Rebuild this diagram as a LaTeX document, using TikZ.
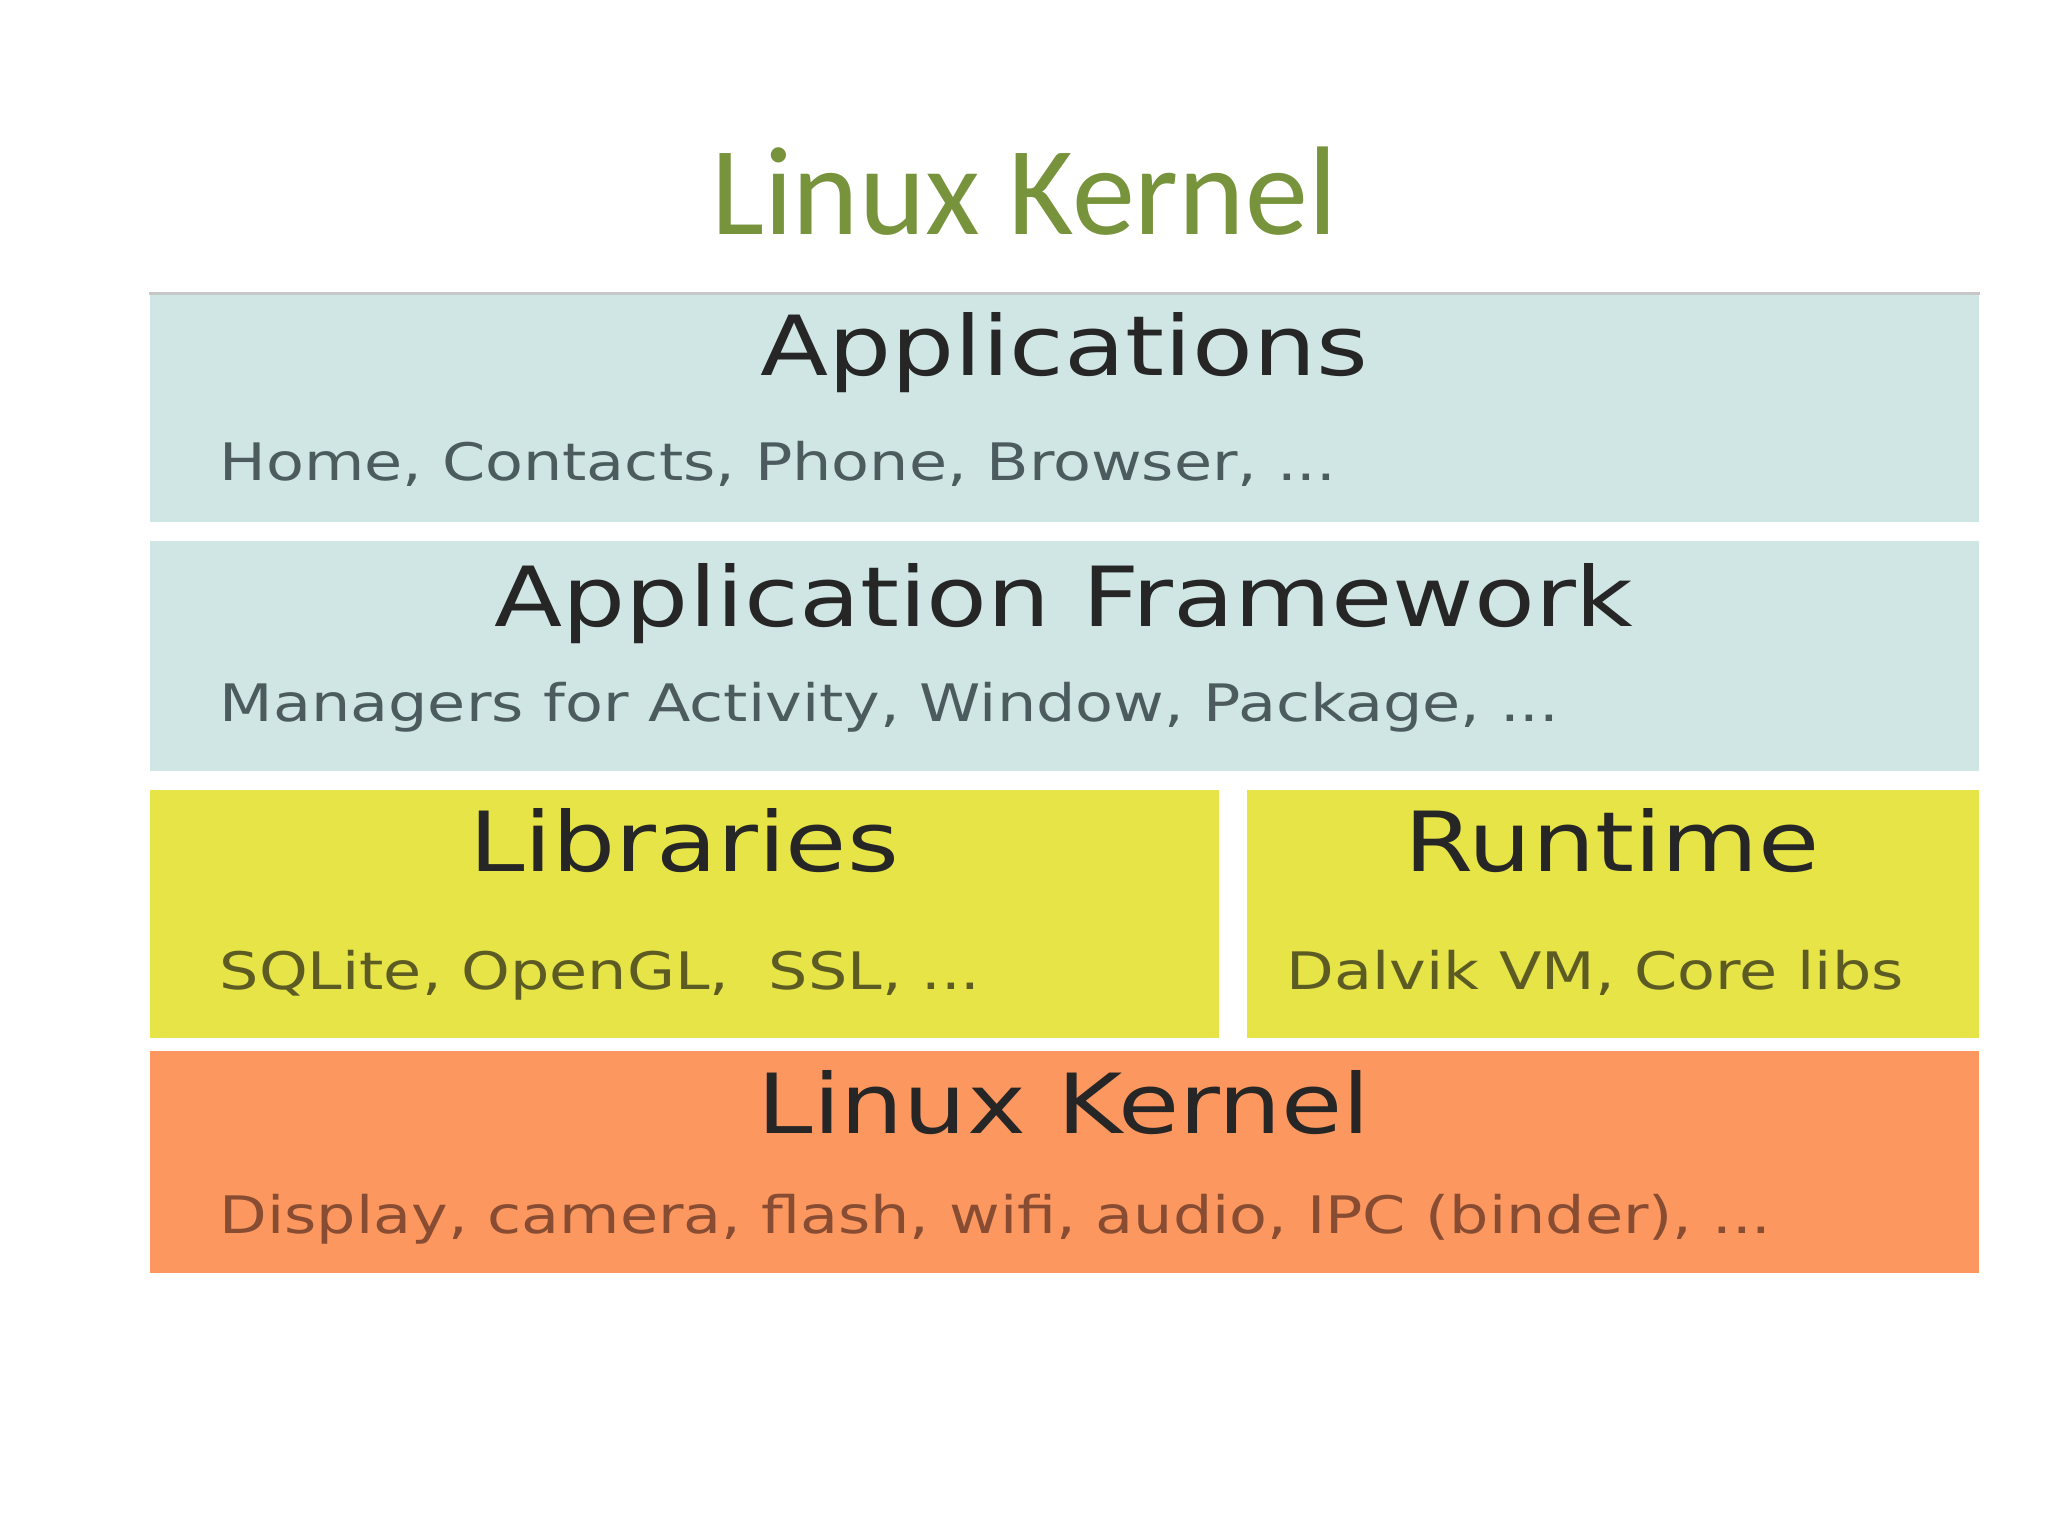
\documentclass[tikz,border=0pt]{standalone}
\usepackage{fontspec}
\usepackage{xcolor}
\setmainfont{Carlito}
\newfontfamily\layerfont[FakeStretch=1.2]{DejaVu Sans}
\definecolor{titlegreen}{HTML}{77933C}
\definecolor{appblue}{HTML}{D0E6E4}
\definecolor{libyellow}{HTML}{E6E446}
\definecolor{kernorange}{HTML}{FC975F}
\definecolor{bluetext}{HTML}{4C5C5E}
\definecolor{yellowtext}{HTML}{5C5B24}
\definecolor{orangetext}{HTML}{874C32}

\begin{document}
\begin{tikzpicture}[
    layer/.style={inner sep=0pt, minimum height=2.3cm},
    head/.style={anchor=base, inner sep=0pt, text=black!85, font=\layerfont\fontsize{23.6}{28}\selectfont},
    sub/.style={anchor=base west, inner sep=0pt, font=\layerfont\fontsize{14.7}{18}\selectfont},
]
    \useasboundingbox (0, 0) rectangle (20.48, 15.36);

    \node[anchor=base, text=titlegreen, font=\fontsize{35.9}{44}\selectfont] (title) at (10.24, 13.01) {Linux Kernel};

    % layers
    \node[layer, fill=appblue, minimum width=18.29cm, minimum height=2.28cm] (app) at (10.645, 11.28) {};
    \node[layer, fill=appblue, minimum width=18.29cm, minimum height=2.30cm] (fw) at (10.645, 8.80) {};
    \node[layer, fill=libyellow, minimum width=10.69cm, minimum height=2.48cm] (lib) at (6.845, 6.22) {};
    \node[layer, fill=libyellow, minimum width=7.32cm, minimum height=2.48cm] (rt) at (16.13, 6.22) {};
    \node[layer, fill=kernorange, minimum width=18.29cm, minimum height=2.22cm] (ker) at (10.645, 3.74) {};
    \draw[line width=0.03cm, black!22] (app.north west) -- (app.north east);

    \node[head] (apphead) at (10.64, 11.60) {Applications};
    \node[sub, text=bluetext] (appsub) at (2.19, 10.55) {Home, Contacts, Phone, Browser, ...};
    \node[head] (fwhead) at (10.64, 9.09) {Application Framework};
    \node[sub, text=bluetext] (fwsub) at (2.19, 8.14) {Managers for Activity, Window, Package, ...};
    \node[head] (libhead) at (6.84, 6.64) {Libraries};
    \node[sub, text=yellowtext] (libsub) at (2.19, 5.46) {SQLite, OpenGL,\ \ SSL, ...};
    \node[head] (rthead) at (16.12, 6.64) {Runtime};
    \node[sub, text=yellowtext] (rtsub) at (12.86, 5.46) {Dalvik VM, Core libs};
    \node[head] (kerhead) at (10.64, 4.02) {Linux Kernel};
    \node[sub, text=orangetext] (kersub) at (2.19, 3.02) {Display, camera, flash, wifi, audio, IPC (binder), ...};
\end{tikzpicture}
\end{document}
